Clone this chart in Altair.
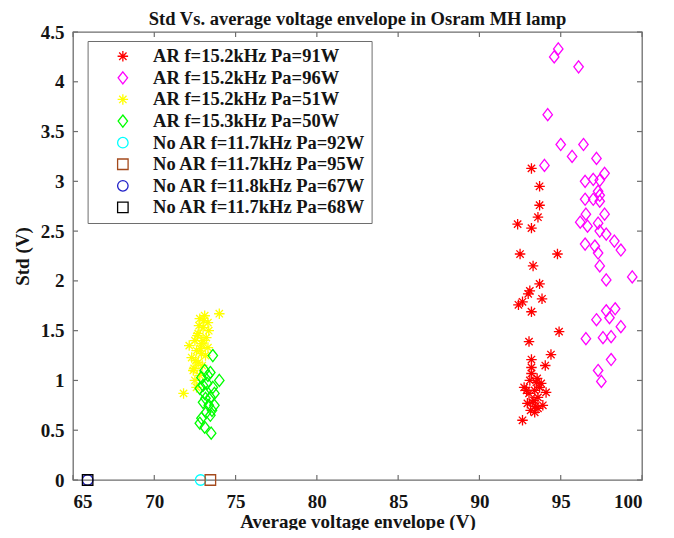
import altair as alt
import pandas as pd

FONT = "Liberation Serif"
FRAME = "#6e6e6e"
INK = "#141414"

labels = [
    "AR f=15.2kHz Pa=91W",
    "AR f=15.2kHz Pa=96W",
    "AR f=15.2kHz Pa=51W",
    "AR f=15.3kHz Pa=50W",
    "No AR f=11.7kHz Pa=92W",
    "No AR f=11.7kHz Pa=95W",
    "No AR f=11.8kHz Pa=67W",
    "No AR f=11.7kHz Pa=68W",
]
colors = ["#ff0000", "#ff00ff", "#ffff00", "#00ff00", "#00ffff", "#a44a1c", "#2020c8", "#000000"]
ASTER = "M-1,0L1,0M0,-1L0,1M-0.7,-0.7L0.7,0.7M-0.7,0.7L0.7,-0.7"
DIAM = "M0,-1.15L0.9,0L0,1.15L-0.9,0Z"
shapes = [ASTER, DIAM, ASTER, DIAM, "circle", "square", "circle", "square"]
sizes = [110, 110, 85, 110, 90, 64, 90, 64]

# series 1: AR 15.2 kHz 91 W (red asterisks)
red_x = [93.2, 93.7, 93.7, 93.6, 92.35, 93.2, 92.5, 94.8, 93.3, 93.7, 93.1, 93.0, 93.85,
         92.65, 92.4, 93.2, 94.9, 93.05, 94.4, 93.2, 94.05, 93.2, 93.2, 93.1, 93.5, 92.75,
         93.7, 93.4, 94.1, 93.05, 93.6, 92.95, 93.25, 93.9, 93.4, 93.6, 92.65, 93.15, 93.55,
         93.35, 92.9, 93.8, 93.45]
red_y = [3.13, 2.95, 2.76, 2.64, 2.57, 2.53, 2.27, 2.27, 2.15, 1.97, 1.90, 1.87, 1.82,
         1.79, 1.76, 1.69, 1.49, 1.39, 1.26, 1.21, 1.15, 1.13, 1.07, 1.00, 0.98, 0.93,
         0.93, 0.90, 0.88, 0.87, 0.83, 0.77, 0.78, 0.75, 0.68, 0.72, 0.60, 0.70, 1.02,
         0.80, 0.90, 0.97, 0.74]

# series 2: AR 15.2 kHz 96 W (magenta diamonds)
mag_x = [94.85, 94.6, 96.1, 94.2, 95.0, 96.4, 95.7, 97.2, 94.0, 97.7, 96.5, 97.0, 97.4,
         97.3, 97.4, 96.5, 97.0, 97.4, 96.55, 97.7, 96.2, 96.65, 97.3, 97.4, 97.8, 98.3,
         98.7, 96.5, 97.1, 97.3, 97.4, 97.8, 99.4, 97.8, 98.35, 98.0, 97.2, 98.7, 96.55,
         97.6, 98.1, 98.1, 97.3, 97.5]
mag_y = [4.33, 4.25, 4.15, 3.67, 3.37, 3.37, 3.25, 3.23, 3.16, 3.08, 3.00, 3.02, 3.01,
         2.90, 2.86, 2.82, 2.82, 2.80, 2.67, 2.67, 2.59, 2.55, 2.58, 2.50, 2.47, 2.40,
         2.31, 2.37, 2.35, 2.28, 2.15, 2.01, 2.04, 1.70, 1.72, 1.63, 1.61, 1.54, 1.42,
         1.43, 1.44, 1.21, 1.10, 0.99]

# series 3: AR 15.2 kHz 51 W (yellow asterisks)
yel_x = [74.0, 73.1, 72.8, 73.3, 73.0, 73.35, 72.7, 73.2, 72.5, 72.9, 72.15, 73.3, 72.6,
         72.9, 72.3, 72.7, 72.95, 72.4, 72.8, 72.5, 71.8, 72.6, 73.0, 72.75, 73.15, 72.55,
         72.85, 73.05, 72.45, 72.65]
yel_y = [1.67, 1.65, 1.62, 1.58, 1.53, 1.50, 1.47, 1.43, 1.40, 1.37, 1.35, 1.33, 1.30,
         1.27, 1.23, 1.18, 1.15, 1.10, 1.05, 1.00, 0.87, 0.93, 1.40, 1.55, 1.25, 1.20,
         1.32, 1.60, 1.12, 1.45]

# series 4: AR 15.3 kHz 50 W (green diamonds)
grn_x = [73.6, 73.1, 73.45, 74.0, 72.9, 73.25, 73.6, 72.8, 73.1, 73.7, 73.45, 73.0,
         73.35, 73.7, 73.2, 73.45, 72.9, 72.8, 73.1, 73.5, 73.3, 73.0, 73.55, 73.15]
grn_y = [1.25, 1.10, 1.08, 1.00, 1.03, 0.97, 0.93, 0.92, 0.87, 0.87, 0.83, 0.78,
         0.75, 0.75, 0.68, 0.65, 0.62, 0.57, 0.53, 0.47, 1.05, 0.95, 0.70, 0.82]

# series 5-8: No AR (all at zero std)
cyan_x = [72.85]
cyan_y = [0.0]
brown_x = [73.45]
brown_y = [0.0]
blue_x = [65.9]
blue_y = [0.0]
black_x = [65.9]
black_y = [0.0]

x_ticks = [65, 70, 75, 80, 85, 90, 95, 100]
y_ticks = [0, 0.5, 1, 1.5, 2, 2.5, 3, 3.5, 4, 4.5]

series = [(red_x, red_y), (mag_x, mag_y), (yel_x, yel_y), (grn_x, grn_y),
          (cyan_x, cyan_y), (brown_x, brown_y), (blue_x, blue_y), (black_x, black_y)]
rows = []
for lab, (xs, ys) in zip(labels, series):
    for a, b in zip(xs, ys):
        rows.append({"x": a, "y": b, "series": lab})
df = pd.DataFrame(rows)

W, H = 569, 448
xscale = alt.Scale(domain=[65, 100], nice=False, zero=False)
yscale = alt.Scale(domain=[0, 4.5], nice=False, zero=False)

x_enc = alt.X("x:Q", scale=xscale, title="Average voltage envelope (V)",
              axis=alt.Axis(values=x_ticks, format="d", labelPadding=12, titleY=47,
                            titleBaseline="alphabetic"))
y_enc = alt.Y("y:Q", scale=yscale, title="Std (V)",
              axis=alt.Axis(values=y_ticks, format="~r", labelPadding=9, titleX=-51,
                            titleY=224, titleBaseline="middle", titleAngle=-90))

legend = alt.Legend(
    title=None, orient="none", legendX=14.6, legendY=9, padding=6,
    strokeColor=FRAME, fillColor="white", cornerRadius=0,
    labelFont=FONT, labelFontSize=18.5, labelFontWeight="bold", labelColor=INK,
    labelLimit=400, symbolSize=100, symbolStrokeWidth=1.3,
    symbolOffset=20, labelOffset=21, rowPadding=2.6,
)

points = alt.Chart(df).mark_point(filled=False, strokeWidth=1.3, opacity=1).encode(
    x=x_enc,
    y=y_enc,
    color=alt.Color("series:N", scale=alt.Scale(domain=labels, range=colors), legend=legend),
    shape=alt.Shape("series:N", scale=alt.Scale(domain=labels, range=shapes), legend=legend),
    size=alt.Size("series:N", scale=alt.Scale(domain=labels, range=sizes), legend=None),
)

xt = pd.DataFrame({"x": x_ticks})
yt = pd.DataFrame({"y": y_ticks})
tick_b = alt.Chart(xt).mark_rule(color=FRAME, strokeWidth=1.2).encode(
    x=x_enc, y=alt.value(H), y2=alt.value(H - 5))
tick_t = alt.Chart(xt).mark_rule(color=FRAME, strokeWidth=1.2).encode(
    x=x_enc, y=alt.value(0), y2=alt.value(5))
tick_l = alt.Chart(yt).mark_rule(color=FRAME, strokeWidth=1.2).encode(
    y=y_enc, x=alt.value(0), x2=alt.value(5))
tick_r = alt.Chart(yt).mark_rule(color=FRAME, strokeWidth=1.2).encode(
    y=y_enc, x=alt.value(W), x2=alt.value(W - 5))

chart = alt.layer(points, tick_b, tick_t, tick_l, tick_r).properties(
    width=W, height=H,
    autosize=alt.AutoSizeParams(type="none"),
    padding={"left": 65, "top": 24, "right": 18, "bottom": 50},
    title=alt.TitleParams("Std Vs. average voltage envelope in Osram MH lamp",
                          font=FONT, fontSize=18.5, fontWeight="bold", color=INK,
                          anchor="middle", frame="group", offset=0, dy=5),
).configure_view(stroke=FRAME, strokeWidth=1.3).configure_axis(
    domain=False, grid=False, ticks=False, tickSize=0,
    labelFont=FONT, labelFontSize=19, labelFontWeight="bold", labelColor=INK,
    titleFont=FONT, titleFontSize=19, titleFontWeight="bold", titleColor=INK,
)

chart.save("out.html", embed_options={"renderer": "svg", "actions": False})
